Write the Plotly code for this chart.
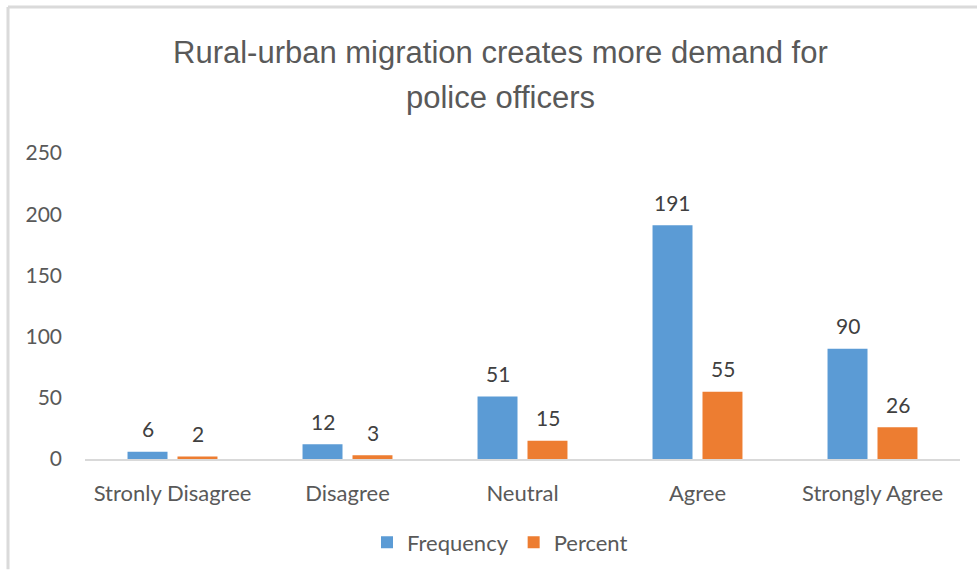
import plotly.graph_objects as go

categories = ["Stronly Disagree", "Disagree", "Neutral", "Agree", "Strongly Agree"]
frequency = [6, 12, 51, 191, 90]
percent = [2, 3, 15, 55, 26]
y_ticks = [0, 50, 100, 150, 200, 250]
title_lines = ["Rural-urban migration creates more demand for", "police officers"]

BLUE = "#5B9BD5"
ORANGE = "#ED7D31"
TEXT = "#595959"
LABEL = "#404040"
FONT = "Lato, 'Open Sans', sans-serif"
TITLE_FONT = "'Liberation Sans', Arial, sans-serif"

W, H = 977, 575
L, R, T, B = 85, 17, 153, 114
pw, ph = W - L - R, H - T - B


def px_x(x):
    return (x - L) / pw


def px_y(y):
    return (H - B - y) / ph


fig = go.Figure()
fig.add_trace(go.Bar(x=categories, y=frequency, name="Frequency",
                     marker=dict(color=BLUE, line=dict(width=0))))
fig.add_trace(go.Bar(x=categories, y=percent, name="Percent",
                     marker=dict(color=ORANGE, line=dict(width=0))))

# value labels above each bar
for vals, shift in ((frequency, -25), (percent, 25)):
    for c, v in zip(categories, vals):
        fig.add_annotation(x=c, y=v, text=str(v), showarrow=False,
                           xshift=shift, yshift=23,
                           font=dict(family=FONT, size=21, color=LABEL))

# two-line chart title
for line, ypix in zip(title_lines, (52, 97)):
    fig.add_annotation(xref="paper", yref="paper", x=px_x(500), y=px_y(ypix),
                       text=line, showarrow=False, xanchor="center", yanchor="middle",
                       font=dict(family=TITLE_FONT, size=31, color=TEXT))

# chart frame: left and top edges only
frame = dict(color="#DADADA", width=3)
fig.add_shape(type="line", xref="paper", yref="paper",
              x0=px_x(8), x1=px_x(8), y0=px_y(572), y1=px_y(6), line=frame)
fig.add_shape(type="line", xref="paper", yref="paper",
              x0=px_x(8), x1=px_x(977), y0=px_y(6), y1=px_y(6), line=frame)

fig.update_layout(
    width=W, height=H,
    margin=dict(l=L, r=R, t=T, b=B),
    paper_bgcolor="white", plot_bgcolor="white",
    barmode="group", bargap=0.429, bargroupgap=0.2,
    font=dict(family=FONT, size=21, color=TEXT),
    xaxis=dict(showline=True, linecolor="#D9D9D9", linewidth=2, ticks="",
               ticklabelstandoff=14,
               tickfont=dict(family=FONT, size=22, color=TEXT), showgrid=False),
    yaxis=dict(range=[0, 250], tickvals=y_ticks, showgrid=False, zeroline=False,
               showline=False, ticks="", ticklabelstandoff=22,
               tickfont=dict(family=FONT, size=21, color=TEXT)),
    legend=dict(orientation="h", x=px_x(500), xanchor="center",
                y=px_y(545), yanchor="middle",
                font=dict(family=FONT, size=22, color=TEXT), itemwidth=30,
                traceorder="normal"),
    showlegend=True,
)

fig.write_html("out.html")
